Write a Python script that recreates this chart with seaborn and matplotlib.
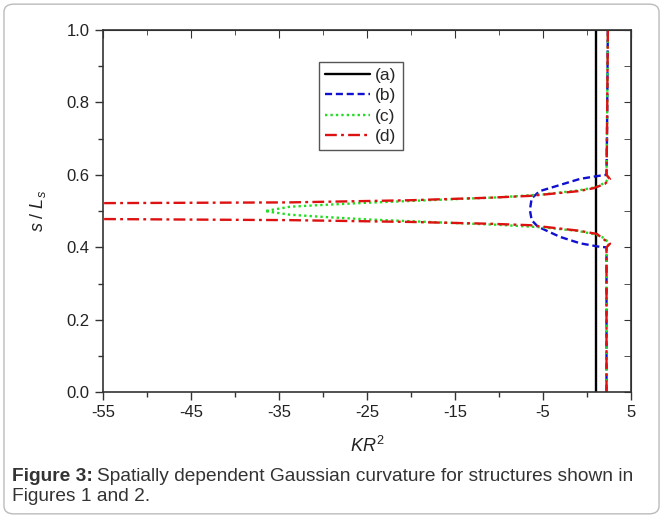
import numpy as np
import pandas as pd
import seaborn as sns
import matplotlib
matplotlib.use("Agg")
from matplotlib import pyplot as plt
from matplotlib.patches import FancyBboxPatch
from matplotlib.ticker import MultipleLocator, FormatStrFormatter
from matplotlib.transforms import offset_copy

# curve (a): constant curvature
a_kr2 = [1.0, 1.0]
a_s = [0.0, 1.0]

# curve (b)
b_kr2 = [2.2, 2.2, 2.2, 1.5, -0.8, -3.1, -5.6, -6.3, -6.5, -6.3, -5.4, -3.1, -0.8, 1.5, 2.2, 2.25, 2.35]
b_s = [0.0, 0.3, 0.40, 0.401, 0.411, 0.429, 0.457, 0.475, 0.503, 0.535, 0.555, 0.572, 0.589, 0.598, 0.600, 0.7, 1.0]

# curve (c)
c_kr2 = [2.2, 2.2, 2.2, 2.5, 2.0, 1.0, -1.0, -5.0, -10.0, -15.0, -25.0, -30.0, -33.75, -36.6,
         -33.75, -30.0, -25.0, -15.0, -10.0, -5.0, -1.0, 1.0, 2.0, 2.5, 2.2, 2.25, 2.35]
c_s = [0.0, 0.3, 0.40, 0.41, 0.425, 0.435, 0.445, 0.455, 0.462, 0.467, 0.477, 0.484, 0.490, 0.500,
       0.512, 0.517, 0.523, 0.533, 0.538, 0.546, 0.557, 0.566, 0.578, 0.590, 0.600, 0.7, 1.0]

# curve (d)
d_kr2 = [2.2, 2.2, 2.2, 2.6, 2.0, 1.1, -1.0, -6.5, -11.0, -20.0, -33.75, -55.0, -62.0,
         -55.0, -33.75, -20.0, -11.0, -6.5, -1.0, 0.7, 2.0, 2.6, 2.2, 2.25, 2.35]
d_s = [0.0, 0.3, 0.40, 0.41, 0.42, 0.437, 0.446, 0.461, 0.465, 0.470, 0.475, 0.478, 0.500,
       0.522, 0.524, 0.530, 0.537, 0.542, 0.555, 0.563, 0.575, 0.588, 0.600, 0.7, 1.0]

labels = ["(a)", "(b)", "(c)", "(d)"]
colors = {"(a)": "#000000", "(b)": "#1010d0", "(c)": "#22dd22", "(d)": "#dd1111"}
dashes = {"(a)": "", "(b)": (3, 1.6), "(c)": (1, 1.3), "(d)": (5, 1.8, 1.2, 1.8)}

frames = []
for lab, xs, ys in zip(labels, [a_kr2, b_kr2, c_kr2, d_kr2], [a_s, b_s, c_s, d_s]):
    frames.append(pd.DataFrame({"kr2": xs, "s": ys, "curve": lab}))
df = pd.concat(frames, ignore_index=True)

sns.set_style("ticks")
plt.rcParams["font.family"] = ["Liberation Sans", "DejaVu Sans"]
plt.rcParams["axes.unicode_minus"] = False
plt.rcParams["mathtext.fontset"] = "custom"
plt.rcParams["mathtext.rm"] = "Liberation Sans"
plt.rcParams["mathtext.it"] = "Liberation Sans:italic"
plt.rcParams["mathtext.bf"] = "Liberation Sans:bold"

fig = plt.figure(figsize=(6.63, 5.18), dpi=100)
ax = fig.add_axes([0.155, 0.243, 0.797, 0.699])

sns.lineplot(data=df, x="kr2", y="s", hue="curve", style="curve", palette=colors,
             dashes=dashes, sort=False, estimator=None, linewidth=1.7, ax=ax)

ax.set_xlim(-55, 5)
ax.set_ylim(0, 1)
ax.set_xticks(np.arange(-55, 6, 10))
ax.xaxis.set_minor_locator(MultipleLocator(5))
ax.yaxis.set_major_locator(MultipleLocator(0.2))
ax.yaxis.set_minor_locator(MultipleLocator(0.1))
ax.yaxis.set_major_formatter(FormatStrFormatter("%.1f"))
ax.tick_params(which="both", direction="out", labelsize=12, width=1, colors="#333333", labelcolor="#222222")
ax.tick_params(which="major", length=6)
ax.tick_params(which="minor", length=3.5)
for sp in ax.spines.values():
    sp.set_linewidth(1.2)
    sp.set_color("#333333")

# mirrored ticks on top and right, pointing inward
sec_x = ax.secondary_xaxis("top")
sec_x.set_xticks(np.arange(-55, 6, 10))
sec_x.xaxis.set_minor_locator(MultipleLocator(5))
sec_x.tick_params(which="both", direction="in", labeltop=False, colors="#333333")
sec_x.tick_params(which="major", length=6)
sec_x.tick_params(which="minor", length=3.5)
sec_y = ax.secondary_yaxis("right")
sec_y.yaxis.set_major_locator(MultipleLocator(0.2))
sec_y.yaxis.set_minor_locator(MultipleLocator(0.1))
sec_y.tick_params(which="both", direction="in", labelright=False, colors="#333333", length=5)

ax.set_xlabel(r"$KR^2$", fontsize=13, labelpad=11, color="#222222")
ax.set_ylabel(r"$s\ /\ L_s$", fontsize=13, labelpad=13, color="#222222")

leg = ax.legend(loc="upper left", bbox_to_anchor=(0.409, 0.912), fontsize=12.5,
                handlelength=2.6, handletextpad=0.3, borderpad=0.35, labelspacing=0.3,
                borderaxespad=0, fancybox=False, framealpha=1, edgecolor="#555555", title=None)
leg.get_frame().set_linewidth(1.0)

cap_size = 13.8
t1 = fig.text(0.018, 0.081, "Figure 3:", fontsize=cap_size, fontweight="bold",
              color="#333333", va="center", ha="left")
renderer = fig.canvas.get_renderer()
w = t1.get_window_extent(renderer).width
fig.text(0.018, 0.081, "Spatially dependent Gaussian curvature for structures shown in",
         fontsize=cap_size, color="#333333", va="center", ha="left",
         transform=offset_copy(fig.transFigure, fig=fig, x=w + 4, units="dots"))
fig.text(0.018, 0.041, "Figures 1 and 2.", fontsize=cap_size, color="#333333", va="center", ha="left")

border = FancyBboxPatch((0.006, 0.008), 0.988, 0.984, boxstyle="round,pad=0,rounding_size=0.015",
                        transform=fig.transFigure, fill=False, edgecolor="#bbbbbb", linewidth=1.0)
fig.patches.append(border)

fig.savefig("out.png", dpi=100)
